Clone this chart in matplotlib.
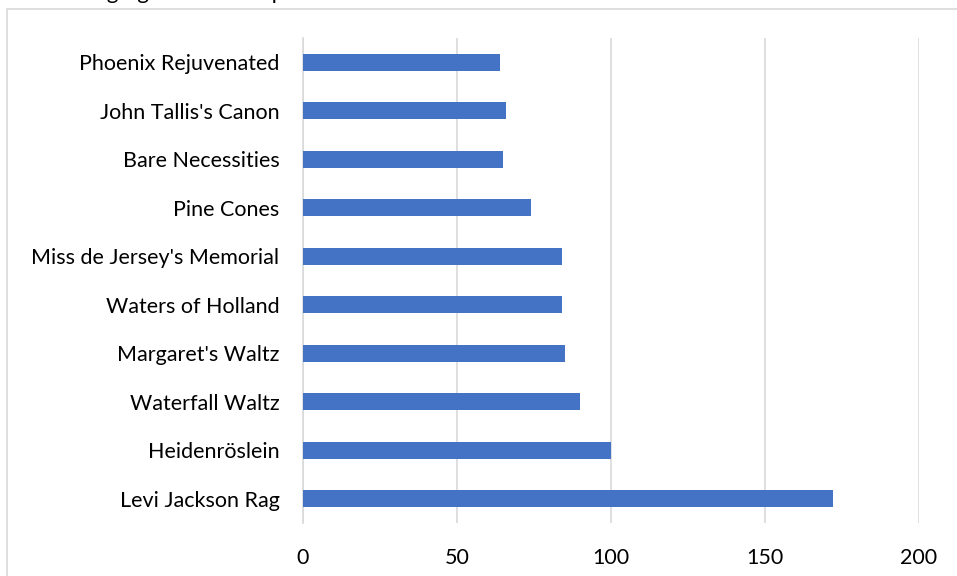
import matplotlib.pyplot as plt
from matplotlib.patches import Rectangle

tunes = ['Levi Jackson Rag', 'Heidenröslein', 'Waterfall Waltz', "Margaret's Waltz",
         'Waters of Holland', "Miss de Jersey's Memorial", 'Pine Cones',
         'Bare Necessities', "John Tallis's Canon", 'Phoenix Rejuvenated']
counts = [172, 100, 90, 85, 84, 84, 74, 65, 66, 64]
x_ticks = [0, 50, 100, 150, 200]

plt.rcParams['font.family'] = ['Lato', 'DejaVu Sans']

fig = plt.figure(figsize=(9.57, 5.76), dpi=100)
W, H = 957, 576
ax = fig.add_axes([303 / W, 1 - 523 / H, (919 - 303) / W, (523 - 38) / H])

ax.barh(range(len(tunes)), counts, height=0.35, color='#4472C4', zorder=3)
ax.set_yticks(range(len(tunes)))
ax.set_yticklabels(tunes)
ax.set_ylim(-0.5, len(tunes) - 0.5)
ax.set_xlim(0, 200)
ax.set_xticks(x_ticks)
ax.grid(axis='x', color='#d9d9d9', linewidth=1.2, zorder=0)
for s in ['top', 'right', 'bottom']:
    ax.spines[s].set_visible(False)
ax.spines['left'].set_color('#d9d9d9')
ax.spines['left'].set_linewidth(1.2)
ax.tick_params(axis='both', length=0, labelsize=15.5, colors='#000000')
ax.tick_params(axis='y', pad=17)
ax.tick_params(axis='x', pad=18)

# chart border (cropped at right and bottom)
fig.patches.append(Rectangle((7 / W, -0.1), 1.2, 1 - 9 / H + 0.1, transform=fig.transFigure,
                             fill=False, edgecolor='#d9d9d9', linewidth=1.2))

# title, almost entirely cut off above the image as in the reference
fig.text(40 / W, 1 + 1 / H, 'Ranking figure of the top ten tunes in the list', fontsize=16,
         va='baseline', ha='left')

fig.savefig('out.png', dpi=100)
